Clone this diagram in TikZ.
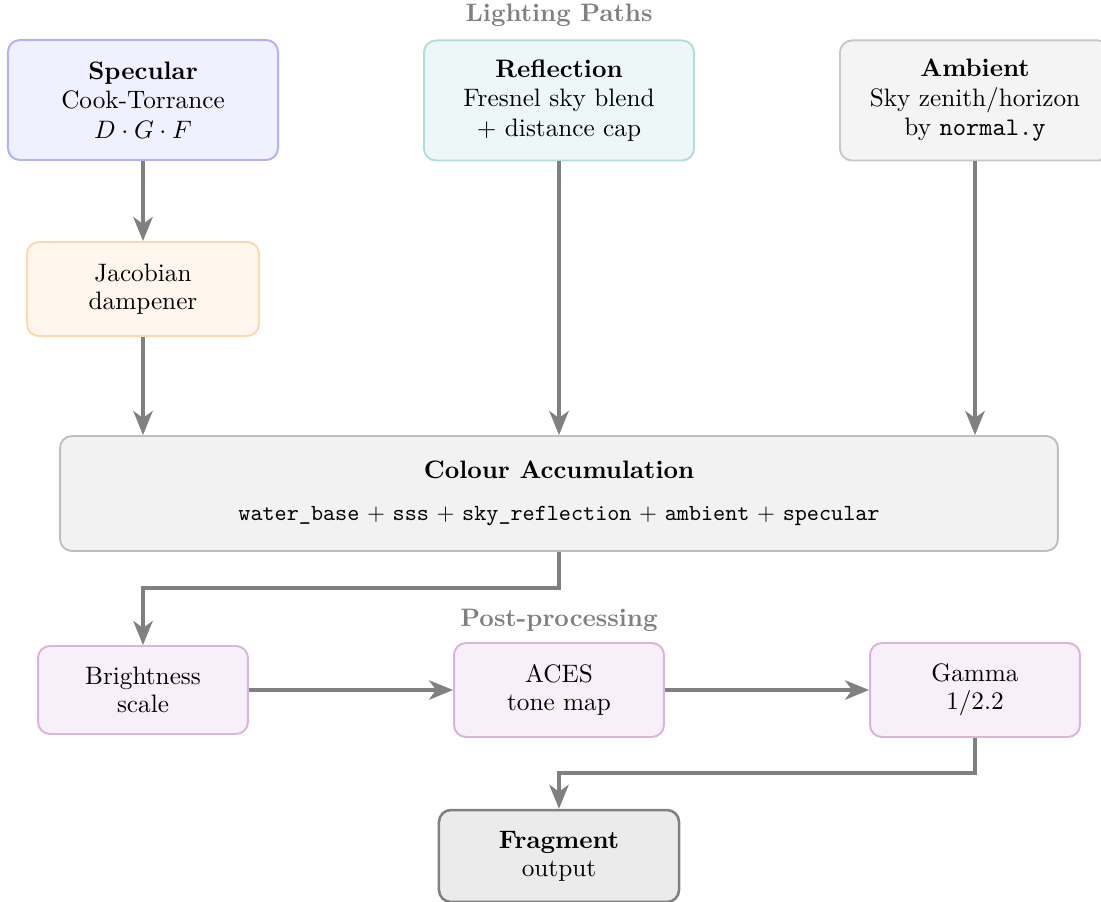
\documentclass[tikz,border=0pt]{standalone}
\usetikzlibrary{arrows.meta}
\definecolor{arrgray}{HTML}{808080}
\definecolor{specfill}{HTML}{F0F0FF}
\definecolor{specdraw}{HTML}{B0B0FF}
\definecolor{reffill}{HTML}{EEF7F7}
\definecolor{refdraw}{HTML}{B2DCDC}
\definecolor{ambfill}{HTML}{F4F4F4}
\definecolor{ambdraw}{HTML}{C8C8C8}
\definecolor{jacfill}{HTML}{FFF6EE}
\definecolor{jacdraw}{HTML}{FFD8AA}
\definecolor{accfill}{HTML}{F2F2F2}
\definecolor{accdraw}{HTML}{BFBFBF}
\definecolor{postfill}{HTML}{F8F0F8}
\definecolor{postdraw}{HTML}{DDB2DD}
\definecolor{fragfill}{HTML}{EBEBEB}
\definecolor{fragdraw}{HTML}{808080}
\begin{document}
\begin{tikzpicture}[x=0.434pt,y=-0.434pt,
  every node/.style={font=\fontsize{10.95}{12.2}\selectfont},
  box/.style={rounded corners=5.2pt, line width=0.85pt, align=center, inner sep=0pt},
  topbox/.style={box, minimum width=117.2pt, minimum height=52.1pt, font=\fontsize{10.95}{12.8}\selectfont},
  postbox/.style={box, fill=postfill, draw=postdraw, minimum width=91.1pt, minimum height=40.8pt},
  grouplabel/.style={font=\fontsize{10.95}{12.2}\selectfont\bfseries, text=arrgray},
  arr/.style={draw=arrgray, line width=1.6pt, -{Stealth[length=10.4pt,width=8.4pt,inset=3pt]}}]
\useasboundingbox (0,0) rectangle (1101,902);

\node[grouplabel] (lp) at (559,15) {Lighting Paths};
\node[grouplabel] (pp) at (559,620) {Post-processing};

\node[topbox, fill=specfill, draw=specdraw] (spec) at (143,100)
  {\textbf{Specular}\\Cook-Torrance\\$D\cdot G\cdot F$};
\node[topbox, fill=reffill, draw=refdraw] (refl) at (559,100.5)
  {\textbf{Reflection}\\Fresnel sky blend\\$+$ distance cap};
\node[topbox, fill=ambfill, draw=ambdraw] (amb) at (975,100.5)
  {\textbf{Ambient}\\Sky zenith/horizon\\by \texttt{normal.y}};

\node[box, fill=jacfill, draw=jacdraw, minimum width=100.7pt, minimum height=40.8pt] (jac) at (143,289)
  {Jacobian\\dampener};

\node[box, fill=accfill, draw=accdraw, minimum width=433.1pt, minimum height=49.9pt] (acc) at (559,493.5)
  {\textbf{Colour Accumulation}\\[6pt]{\fontsize{10}{12}\selectfont\texttt{water\_base} + \texttt{sss} + \texttt{sky\_reflection} + \texttt{ambient} + \texttt{specular}}};

\node[postbox, minimum height=38.2pt] (bright) at (143,690) {Brightness\\scale};
\node[postbox] (aces) at (559,690) {ACES\\tone map};
\node[postbox] (gamma) at (975,690) {Gamma\\1/2.2};

\node[box, fill=fragfill, draw=fragdraw, line width=1.1pt, minimum width=104.2pt, minimum height=39.9pt] (frag) at (559,856)
  {\textbf{Fragment}\\output};

\draw[arr] (spec.south) -- (jac.north);
\draw[arr] (jac.south) -- (jac.south |- acc.north);
\draw[arr] (refl.south) -- (refl.south |- acc.north);
\draw[arr] (amb.south) -- (amb.south |- acc.north);
\draw[arr] (acc.south) -- ++(0,36) -| (bright.north);
\draw[arr] (bright.east) -- (aces.west);
\draw[arr] (aces.east) -- (gamma.west);
\draw[arr] (gamma.south) -- ++(0,35) -| (frag.north);
\end{tikzpicture}
\end{document}
